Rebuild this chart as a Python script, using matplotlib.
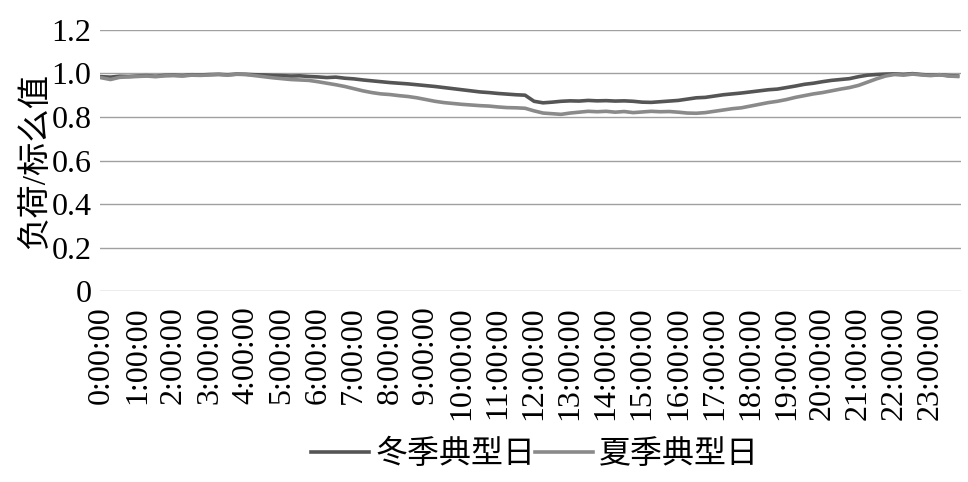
import numpy as np
import matplotlib.pyplot as plt

plt.rcParams['font.family'] = ['Liberation Serif', 'Noto Sans CJK SC', 'DejaVu Sans']

# 负荷标么值，每15分钟一个点
winter = [
    0.985, 0.983, 0.987, 0.986,  0.988, 0.990, 0.987, 0.991,
    0.992, 0.990, 0.994, 0.993,  0.995, 0.996, 0.994, 0.997,
    0.996, 0.994, 0.993, 0.991,  0.990, 0.988, 0.989, 0.986,
    0.984, 0.981, 0.983, 0.978,  0.975, 0.970, 0.966, 0.962,
    0.958, 0.955, 0.952, 0.948,  0.944, 0.940, 0.935, 0.930,
    0.925, 0.920, 0.915, 0.912,  0.908, 0.905, 0.902, 0.900,
    0.872, 0.865, 0.868, 0.872,  0.874, 0.873, 0.876, 0.874,
    0.875, 0.873, 0.874, 0.872,  0.868, 0.867, 0.870, 0.873,
    0.876, 0.882, 0.888, 0.890,  0.896, 0.902, 0.906, 0.910,
    0.915, 0.920, 0.925, 0.928,  0.935, 0.942, 0.950, 0.955,
    0.962, 0.968, 0.972, 0.976,  0.985, 0.992, 0.995, 0.997,
    0.998, 0.996, 0.999, 0.995,  0.992, 0.994, 0.990, 0.988,
]
summer = [
    0.980, 0.972, 0.982, 0.984,  0.986, 0.988, 0.985, 0.989,
    0.990, 0.988, 0.992, 0.991,  0.993, 0.995, 0.992, 0.996,
    0.995, 0.990, 0.985, 0.980,  0.976, 0.972, 0.970, 0.968,
    0.962, 0.955, 0.948, 0.940,  0.930, 0.920, 0.912, 0.906,
    0.903, 0.898, 0.894, 0.888,  0.880, 0.872, 0.866, 0.862,
    0.858, 0.855, 0.852, 0.850,  0.846, 0.843, 0.842, 0.840,
    0.828, 0.818, 0.815, 0.812,  0.818, 0.822, 0.826, 0.824,
    0.826, 0.822, 0.825, 0.820,  0.823, 0.826, 0.824, 0.825,
    0.822, 0.818, 0.817, 0.820,  0.826, 0.832, 0.838, 0.842,
    0.850, 0.858, 0.866, 0.872,  0.880, 0.890, 0.898, 0.906,
    0.912, 0.920, 0.928, 0.935,  0.945, 0.960, 0.975, 0.988,
    0.995, 0.992, 0.997, 0.993,  0.990, 0.994, 0.988, 0.986,
]
hours = list(range(24))
hour_labels = ['{}:00:00'.format(h) for h in hours]
labels = ['冬季典型日', '夏季典型日']

t = np.arange(len(winter)) / 4.0

fig = plt.figure(figsize=(9.68, 4.82), dpi=100)
ax = fig.add_axes([0.103, 0.396, 0.89, 0.542])

ax.plot(t, winter, color='#555555', lw=2.6, label=labels[0])
ax.plot(t, summer, color='#8a8a8a', lw=2.6, label=labels[1])

ax.set_ylim(0, 1.2)
ax.set_yticks([0, 0.2, 0.4, 0.6, 0.8, 1.0, 1.2])
ax.set_yticklabels(['0', '0.2', '0.4', '0.6', '0.8', '1.0', '1.2'])
ax.set_xlim(-0.05, 23.85)
ax.set_xticks(hours)
ax.set_xticklabels(hour_labels, rotation=90)
ax.tick_params(axis='both', length=0, labelsize=23)
ax.tick_params(axis='x', pad=11)
ax.tick_params(axis='y', pad=6)
ax.yaxis.grid(True, color='#a0a0a0', lw=1)
ax.set_axisbelow(True)
for s in ax.spines.values():
    s.set_visible(False)

ax.set_ylabel('负荷/标么值', fontsize=24, labelpad=0)

fig.legend(loc='lower center', bbox_to_anchor=(0.553, -0.035), ncol=2, frameon=False,
           fontsize=23, handlelength=1.8, handletextpad=0.2, columnspacing=0.0)

fig.savefig('out.png', dpi=100)
